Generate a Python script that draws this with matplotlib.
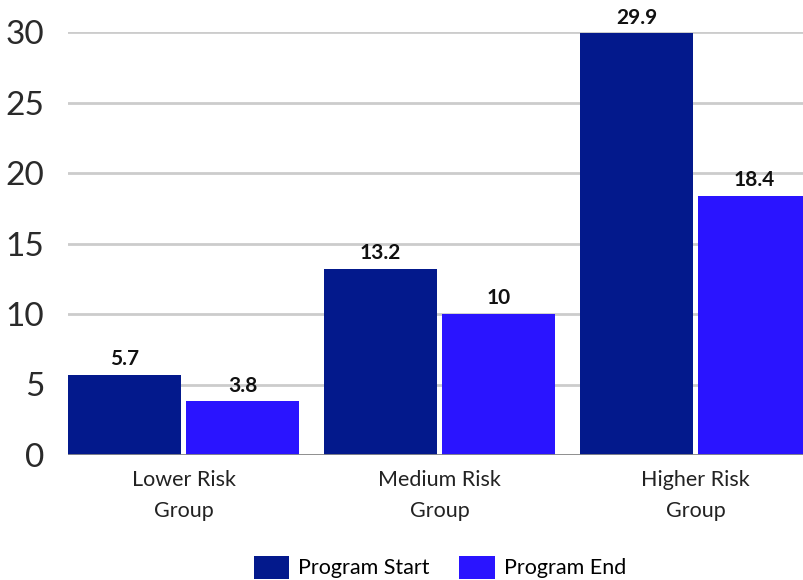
import numpy as np
import matplotlib
matplotlib.use("Agg")
import matplotlib.pyplot as plt

plt.rcParams['font.family'] = ['Lato', 'DejaVu Sans']

# data
groups = ["Lower Risk\nGroup", "Medium Risk\nGroup", "Higher Risk\nGroup"]
start_vals = [5.7, 13.2, 29.9]
end_vals = [3.8, 10, 18.4]
labels_start = ["5.7", "13.2", "29.9"]
labels_end = ["3.8", "10", "18.4"]

c_start = "#03198C"
c_end = "#2A14FF"

fig = plt.figure(figsize=(8.04, 5.80), dpi=100)
# axes runs a little past the right edge, like the original (last bar is cut)
ax = fig.add_axes([68 / 804, 125 / 580, 768 / 804, 423 / 580])

x = np.arange(len(groups))
w = 113 / 256
off = 59 / 256

b1 = ax.bar(x - off, start_vals, w, color=c_start, label="Program Start", zorder=3)
b2 = ax.bar(x + off, end_vals, w, color=c_end, label="Program End", zorder=3)

for bars, labs in ((b1, labels_start), (b2, labels_end)):
    for r, t in zip(bars, labs):
        ax.annotate(t, (r.get_x() + r.get_width() / 2, r.get_height()),
                    xytext=(0, 4), textcoords="offset points",
                    ha="center", va="bottom", fontsize=15, fontweight="bold",
                    color="#111111", annotation_clip=False)

ax.set_xlim(-off - w / 2, -off - w / 2 + 3)
ax.set_ylim(0, 30)
ax.set_yticks(np.arange(0, 31, 5))
ax.yaxis.grid(True, color="#cccccc", linewidth=2, zorder=0)
ax.axhline(0, color="#8a8a8a", linewidth=2, zorder=4)
for s in ax.spines.values():
    s.set_visible(False)

ax.set_xticks(x)
ax.set_xticklabels(groups, fontsize=15.5, linespacing=1.65, color="#222222")
ax.tick_params(axis="x", length=0, pad=11)
ax.tick_params(axis="y", length=0, pad=17, labelsize=24, labelcolor="#2a2a2a")

fig.legend(handles=[b1, b2], loc="center", bbox_to_anchor=(0.547, 0.022),
           ncol=2, frameon=False, fontsize=15.5, handlelength=1.65, handleheight=1.3,
           handletextpad=0.4, columnspacing=1.4)

fig.savefig("out.png", dpi=100)
